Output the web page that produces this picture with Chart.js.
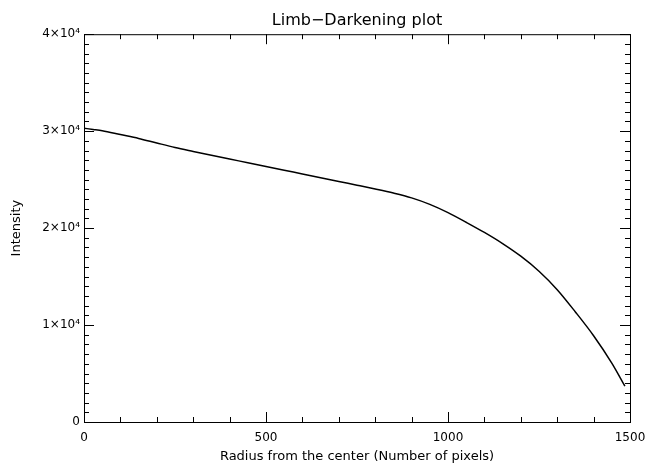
<!DOCTYPE html>
<html lang="en">

<head>
  <meta charset="UTF-8" />
  <title>Limb-Darkening plot</title>
  <script src="https://cdn.jsdelivr.net/npm/chart.js"></script>
  <style>
    body { margin: 0; background: #fff; }
    #grafico { display: block; }
  </style>
</head>

<body>
  <canvas id="grafico" width="647" height="466"></canvas>

  <script>
    // radius (pixels) and intensity
    const raio = [0, 25, 50, 100, 150, 200, 250, 300, 350, 400, 450, 500, 550, 600, 650, 700, 750, 800, 850, 900,
      950, 1000, 1050, 1100, 1150, 1200, 1250, 1300, 1350, 1400, 1450, 1486];
    const intensidade = [30300, 30180, 30050, 29650, 29250, 28780, 28320, 27910, 27510, 27120, 26750, 26360, 25970,
      25590, 25200, 24810, 24430, 24040, 23620, 23120, 22450, 21600, 20600, 19550, 18400, 17100, 15550, 13650,
      11350, 8900, 6080, 3700];

    const xTicks = [0, 500, 1000, 1500];
    const xTickLabels = ['0', '500', '1000', '1500'];
    const xMinor = 100;
    const yTicks = [0, 10000, 20000, 30000, 40000];
    const yTickLabels = ['0', '1×10⁴', '2×10⁴', '3×10⁴', '4×10⁴'];
    const yMinor = 1000;

    const fonte = 'DejaVu Sans';

    // box and inward ticks on all four sides, IDL style
    const caixaTicks = {
      id: 'caixaTicks',
      afterDraw(chart) {
        const ctx = chart.ctx;
        const a = chart.chartArea;
        const sx = chart.scales.x;
        const sy = chart.scales.y;
        ctx.save();
        ctx.strokeStyle = '#000';
        ctx.lineWidth = 1;
        ctx.strokeRect(a.left + 0.5, a.top + 0.5, a.right - a.left, a.bottom - a.top);
        ctx.beginPath();
        for (let v = sx.min; v <= sx.max; v += xMinor) {
          const px = Math.round(sx.getPixelForValue(v)) + 0.5;
          const len = xTicks.includes(v) ? 10 : 5;
          ctx.moveTo(px, a.bottom); ctx.lineTo(px, a.bottom - len);
          ctx.moveTo(px, a.top); ctx.lineTo(px, a.top + len);
        }
        for (let v = sy.min; v <= sy.max; v += yMinor) {
          const py = Math.round(sy.getPixelForValue(v)) + 0.5;
          const len = yTicks.includes(v) ? 10 : 5;
          ctx.moveTo(a.left, py); ctx.lineTo(a.left + len, py);
          ctx.moveTo(a.right, py); ctx.lineTo(a.right - len, py);
        }
        ctx.stroke();
        ctx.restore();
      }
    };

    const pontos = raio.map((r, i) => ({ x: r, y: intensidade[i] }));

    const grafico = new Chart(document.getElementById('grafico'), {
      type: 'line',
      data: {
        datasets: [{
          label: 'Intensity',
          data: pontos,
          borderColor: '#000',
          borderWidth: 1.5,
          pointRadius: 0,
          cubicInterpolationMode: 'monotone',
          fill: false
        }]
      },
      options: {
        responsive: false,
        animation: false,
        layout: { padding: { left: 0, right: 17, top: 0, bottom: 0 } },
        plugins: {
          legend: { display: false },
          tooltip: { enabled: false },
          title: {
            display: true,
            text: 'Limb−Darkening plot',
            fullSize: false,
            color: '#000',
            font: { family: fonte, size: 16, weight: 'normal' },
            padding: { top: 11, bottom: 4 }
          }
        },
        scales: {
          x: {
            type: 'linear',
            min: 0,
            max: 1500,
            afterFit(scale) { scale.height = 44; scale.paddingRight = 0; },
            grid: { display: false, drawTicks: false },
            border: { display: false },
            ticks: {
              stepSize: 500,
              padding: 9,
              maxRotation: 0,
              color: '#000',
              font: { family: fonte, size: 12 },
              callback: (v) => xTickLabels[xTicks.indexOf(v)]
            },
            title: {
              display: true,
              text: 'Radius from the center (Number of pixels)',
              color: '#000',
              font: { family: fonte, size: 13 },
              padding: { top: 0, bottom: 2 }
            }
          },
          y: {
            min: 0,
            max: 40000,
            afterFit(scale) { scale.width = 84; },
            grid: { display: false, drawTicks: false },
            border: { display: false },
            ticks: {
              stepSize: 10000,
              padding: 4,
              color: '#000',
              font: { family: fonte, size: 12 },
              callback: (v) => yTickLabels[yTicks.indexOf(v)]
            },
            title: {
              display: true,
              text: 'Intensity',
              color: '#000',
              font: { family: fonte, size: 13 },
              padding: { top: 9, bottom: 0 }
            }
          }
        }
      },
      plugins: [caixaTicks]
    });
  </script>
</body>

</html>
